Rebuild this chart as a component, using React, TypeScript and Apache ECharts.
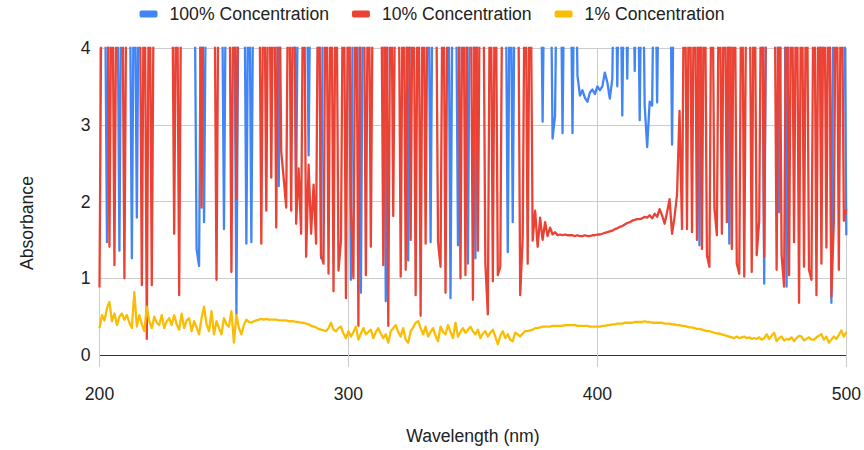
import React, { useEffect, useRef } from "react";
import * as echarts from "echarts";

// Wavelength of the first sample (nm); samples every 1 nm
const START_NM = 200;
const STEP_NM = 1;

const seriesNames = ["100% Concentration", "10% Concentration", "1% Concentration"];
const xTicks = [200, 300, 400, 500];
const yTicks = [0, 1, 2, 3, 4];
const xTitle = "Wavelength (nm)";
const yTitle = "Absorbance";

// values above 4 are saturated readings (clipped at the top of the plot)
const conc100 = [
  6, 6, 6, 1.47, 6, 6, 6, 6, 1.36, 6,
  6, 6, 6, 1.26, 6, 1.79, 6, 6, 6, 6,
  6, 6, 6, 6, 6, 6, 6, 6, 6, 6,
  6, 6, 6, 6, 6, 6, 6, 6, 6, 1.38,
  1.16, 6, 1.73, 6, 6, 6, 6, 6, 6, 6,
  1.64, 6, 6, 6, 6, 0.53, 6, 6, 6, 1.45,
  6, 1.47, 6, 6, 6, 6, 6, 6, 6, 6,
  6, 6, 2.2, 6, 6, 6, 6, 6, 6, 2.1,
  6, 6, 6, 6, 2.6, 6, 6, 6, 6, 1.26,
  6, 6, 6, 6, 6, 6, 6, 6, 6, 6,
  6, 0.98, 6, 6, 6, 0.81, 6, 6, 6, 6,
  6, 6, 6, 6, 6, 0.7, 6, 6, 6, 6,
  6, 6, 6, 6, 1.23, 6, 6, 6, 6, 6,
  6, 6, 6, 1.47, 6, 6, 6, 6, 6, 6,
  6, 0.74, 6, 6, 1.43, 6, 6, 6, 1.19, 6,
  6, 1.26, 6, 6, 6, 6, 6, 6, 6, 6,
  6, 6, 6, 6, 1.34, 6, 1.73, 6, 6, 6,
  6, 6, 6, 6, 6, 6, 6, 6, 3.04, 6,
  6, 6, 2.82, 3.12, 6, 6, 2.89, 6, 6, 6,
  2.89, 6, 3.64, 3.38, 3.45, 3.35, 3.3, 3.42, 3.46, 3.4,
  3.5, 3.45, 3.5, 3.68, 3.55, 3.34, 3.6, 6, 3.5, 6,
  3.12, 6, 3.6, 6, 6, 3.7, 6, 3.06, 6, 3.25,
  2.71, 3.3, 3.25, 6, 3.29, 6, 6, 6, 6, 6,
  2.74, 6, 6, 6, 6, 6, 6, 6, 6, 6,
  6, 1.43, 6, 6, 6, 6, 6, 6, 6, 6,
  6, 6, 6, 1.45, 6, 6, 6, 6, 6, 6,
  6, 6, 6, 6, 6, 6, 6, 0.93, 6, 6,
  6, 6, 6, 1.86, 6, 6, 0.89, 6, 6, 6,
  6, 6, 6, 6, 6, 6, 6, 6, 6, 6,
  2.2, 6, 6, 6, 0.68, 6, 6, 6, 6, 6,
  1.56,
];

const conc10 = [
  0.88, 6, 6, 6, 1.41, 6, 1.17, 6, 6, 6,
  1.0, 6, 6, 6, 6, 6, 6, 0.91, 6, 0.21,
  6, 0.91, 6, 6, 6, 6, 6, 6, 6, 6,
  1.58, 6, 0.78, 6, 6, 6, 6, 6, 6, 6,
  6, 1.92, 6, 6, 6, 6, 6, 0.98, 6, 6,
  6, 6, 6, 1.08, 6, 2.03, 6, 6, 6, 6,
  6, 6, 6, 6, 6, 1.45, 6, 1.88, 6, 2.31,
  6, 1.66, 6, 2.65, 2.3, 1.92, 6, 1.88, 6, 1.71,
  2.43, 1.58, 6, 1.28, 2.48, 1.58, 2.22, 1.45, 6, 1.3,
  1.19, 6, 1.06, 6, 0.83, 6, 1.1, 1.49, 6, 0.74,
  6, 1.92, 1.0, 6, 0.38, 6, 6, 1.04, 6, 1.41,
  6, 6, 6, 6, 1.17, 6, 0.38, 6, 1.81, 6,
  6, 1.02, 6, 1.11, 6, 1.5, 6, 0.78, 6, 0.51,
  6, 1.45, 6, 6, 6, 6, 1.47, 1.15, 6, 0.81,
  6, 6, 6, 6, 6, 1.0, 6, 1.04, 6, 6,
  0.72, 6, 1.36, 6, 6, 1.19, 0.53, 6, 0.96, 6,
  1.04, 1.15, 6, 6, 6, 6, 6, 6, 6, 0.78,
  1.53, 6, 1.19, 6, 1.49, 1.88, 1.41, 1.79, 1.5, 1.73,
  1.55, 1.66, 1.57, 1.6, 1.56, 1.57, 1.56, 1.57, 1.56, 1.56,
  1.56, 1.55, 1.56, 1.55, 1.55, 1.56, 1.55, 1.55, 1.56, 1.56,
  1.57, 1.57, 1.58, 1.59, 1.6, 1.61, 1.62, 1.64, 1.65, 1.67,
  1.68, 1.7, 1.72, 1.73, 1.75, 1.76, 1.77, 1.77, 1.78, 1.8,
  1.79, 1.82, 1.78, 1.84, 1.8, 1.9, 1.82, 1.71, 1.86, 2.03,
  1.58, 1.8, 2.09, 3.18, 1.64, 6, 1.64, 6, 1.6, 6,
  1.5, 6, 1.38, 6, 1.3, 1.15, 6, 1.92, 1.56, 6,
  1.58, 6, 1.73, 6, 1.38, 6, 1.19, 1.06, 6, 1.02,
  6, 6, 1.08, 6, 1.3, 1.75, 6, 1.28, 6, 6,
  6, 6, 1.11, 6, 1.3, 0.89, 6, 1.04, 6, 1.47,
  6, 0.68, 6, 1.15, 6, 1.11, 0.98, 6, 0.78, 6,
  1.19, 6, 1.4, 6, 0.76, 1.75, 6, 1.11, 6, 1.75,
  1.9,
];

const conc1 = [
  0.35, 0.52, 0.45, 0.61, 0.69, 0.44, 0.54, 0.39, 0.5, 0.54,
  0.46, 0.52, 0.42, 0.35, 0.82, 0.37, 0.52, 0.4, 0.31, 0.63,
  0.44, 0.35, 0.5, 0.42, 0.39, 0.52, 0.35, 0.44, 0.48, 0.39,
  0.52, 0.4, 0.33, 0.54, 0.35, 0.45, 0.48, 0.31, 0.44, 0.36,
  0.27, 0.48, 0.63, 0.4, 0.31, 0.57, 0.27, 0.44, 0.35, 0.27,
  0.48, 0.4, 0.37, 0.57, 0.16, 0.52, 0.35, 0.27, 0.39, 0.46,
  0.43, 0.42, 0.44, 0.45, 0.46, 0.47, 0.46, 0.47, 0.46, 0.46,
  0.46, 0.46, 0.45, 0.45, 0.45, 0.45, 0.44, 0.44, 0.44, 0.43,
  0.43, 0.42, 0.42, 0.41, 0.4, 0.38, 0.37, 0.36, 0.34, 0.33,
  0.32, 0.31, 0.35, 0.42, 0.33, 0.31, 0.35, 0.37, 0.28, 0.22,
  0.31, 0.24, 0.3, 0.37, 0.2, 0.28, 0.35, 0.27, 0.3, 0.33,
  0.22, 0.3, 0.35, 0.28, 0.22, 0.27, 0.16, 0.31, 0.35, 0.39,
  0.3, 0.24, 0.35, 0.2, 0.16, 0.31, 0.36, 0.42, 0.44, 0.35,
  0.27, 0.37, 0.24, 0.3, 0.35, 0.25, 0.18, 0.37, 0.3, 0.27,
  0.39, 0.3, 0.22, 0.42, 0.24, 0.3, 0.35, 0.29, 0.33, 0.37,
  0.31, 0.27, 0.33, 0.22, 0.28, 0.31, 0.24, 0.29, 0.33, 0.24,
  0.14, 0.25, 0.31, 0.22, 0.27, 0.2, 0.18, 0.29, 0.27, 0.24,
  0.28, 0.31, 0.31, 0.32, 0.33, 0.35, 0.35, 0.36, 0.37, 0.37,
  0.37, 0.37, 0.38, 0.38, 0.38, 0.38, 0.38, 0.39, 0.39, 0.39,
  0.39, 0.39, 0.38, 0.38, 0.38, 0.38, 0.38, 0.37, 0.37, 0.37,
  0.37, 0.37, 0.38, 0.38, 0.39, 0.39, 0.4, 0.4, 0.41, 0.41,
  0.41, 0.42, 0.42, 0.42, 0.42, 0.43, 0.43, 0.43, 0.43, 0.44,
  0.43, 0.43, 0.42, 0.42, 0.42, 0.42, 0.42, 0.41, 0.41, 0.41,
  0.4, 0.4, 0.39, 0.39, 0.38, 0.38, 0.37, 0.36, 0.36, 0.35,
  0.34, 0.34, 0.33, 0.32, 0.31, 0.31, 0.3, 0.29, 0.28, 0.28,
  0.27, 0.26, 0.25, 0.24, 0.23, 0.22, 0.24, 0.22, 0.23, 0.24,
  0.22, 0.23, 0.21, 0.22, 0.21, 0.23, 0.2, 0.22, 0.27, 0.21,
  0.25, 0.29, 0.18, 0.22, 0.24, 0.19, 0.21, 0.2, 0.23, 0.18,
  0.22, 0.25, 0.24, 0.19, 0.21, 0.23, 0.2, 0.2, 0.23, 0.25,
  0.27, 0.2, 0.24, 0.16, 0.2, 0.24, 0.21, 0.26, 0.32, 0.24,
  0.3,
];

const colors = ["#4285F4", "#EA4335", "#FBBC04"];
const FONT = 'Arial, "Liberation Sans", sans-serif';
const FS = 17.6;

function toPairs(values: number[]) {
  return values.map((v, i) => [START_NM + i * STEP_NM, v]);
}

export default function App() {
  const ref = useRef<HTMLDivElement>(null);

  useEffect(() => {
    if (!ref.current) return;
    const chart = echarts.init(ref.current, undefined, { renderer: "svg" });
    const allSeries = [conc100, conc10, conc1];
    chart.setOption({
      animation: false,
      textStyle: { fontFamily: FONT },
      color: colors,
      grid: { left: 99.5, right: 15.5, top: 48, bottom: 91, containLabel: false },
      legend: {
        top: 0,
        left: "center",
        icon: "roundRect",
        itemWidth: 18,
        itemHeight: 7,
        itemGap: 23,
        data: seriesNames,
        textStyle: { fontSize: FS, color: "#222", fontFamily: FONT, padding: [0, 0, 0, 7] },
      },
      graphic: [
        {
          type: "text",
          x: 27,
          y: 223,
          rotation: Math.PI / 2,
          style: {
            text: yTitle,
            fontSize: FS,
            fontFamily: FONT,
            fill: "#222",
            align: "center",
            verticalAlign: "middle",
          },
        },
      ],
      xAxis: {
        type: "value",
        min: xTicks[0],
        max: xTicks[xTicks.length - 1],
        interval: 100,
        name: xTitle,
        nameLocation: "middle",
        nameGap: 72,
        nameTextStyle: { fontSize: FS, color: "#222", fontFamily: FONT },
        axisLine: { show: true, lineStyle: { color: "#333", width: 1 } },
        axisTick: { show: true, length: 12, lineStyle: { color: "#ccc" } },
        axisLabel: { margin: 30, fontSize: FS, color: "#222", fontFamily: FONT },
        splitLine: { show: true, lineStyle: { color: "#ccc", width: 1 } },
      },
      yAxis: {
        type: "value",
        min: yTicks[0],
        max: yTicks[yTicks.length - 1],
        interval: 1,
        axisLine: { show: false },
        axisTick: { show: false },
        axisLabel: { margin: 9, fontSize: FS, color: "#222", fontFamily: FONT },
        splitLine: { show: true, lineStyle: { color: "#ccc", width: 1 } },
      },
      series: allSeries.map((vals, i) => ({
        name: seriesNames[i],
        type: "line",
        data: toPairs(vals),
        showSymbol: false,
        symbol: "none",
        clip: true,
        lineStyle: { width: 2.3, color: colors[i], join: "round" },
        itemStyle: { color: colors[i] },
      })),
    });
    return () => chart.dispose();
  }, []);

  return (
    <div
      ref={ref}
      style={{ position: "absolute", left: 0, top: 0, width: 864, height: 450 }}
    />
  );
}
